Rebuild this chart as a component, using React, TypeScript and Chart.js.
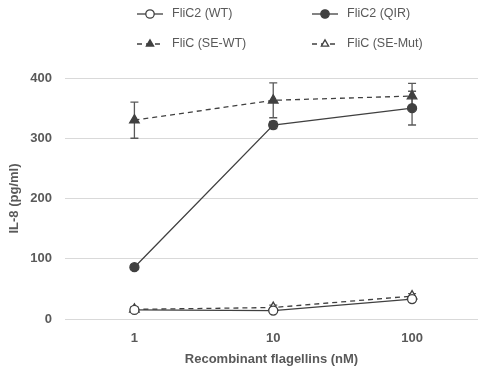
import React, { useEffect, useRef } from "react";
import { Chart, registerables } from "chart.js";

Chart.register(...registerables);

const categories = ["1", "10", "100"];
const wtValues = [15, 14, 33];
const wtErrors = [3, 3, 4];
const qirValues = [86, 322, 350];
const qirErrors = [4, 6, 28];
const seWtValues = [330, 363, 370];
const seWtErrors = [30, 29, 21];
const seMutValues = [16, 19, 38];
const seMutErrors = [4, 4, 4];
const yTicks = [0, 100, 200, 300, 400];

const seriesNames = ["FliC2 (WT)", "FliC2 (QIR)", "FliC (SE-WT)", "FliC (SE-Mut)"];

const INK = "#404040";
const TEXT = "#595959";
const FONT = "'Liberation Sans', Arial, sans-serif";

const errorsByDataset = [wtErrors, qirErrors, seWtErrors, seMutErrors];
const valuesByDataset = [wtValues, qirValues, seWtValues, seMutValues];

function drawMarker(ctx: CanvasRenderingContext2D, style: string, filled: boolean, x: number, y: number, r: number) {
  ctx.save();
  ctx.beginPath();
  if (style === "circle") {
    ctx.arc(x, y, r, 0, Math.PI * 2);
  } else {
    let rad = 0;
    for (let i = 0; i < 3; i++) {
      const px = x + Math.sin(rad) * r;
      const py = y - Math.cos(rad) * r;
      if (i === 0) ctx.moveTo(px, py);
      else ctx.lineTo(px, py);
      rad += (2 * Math.PI) / 3;
    }
    ctx.closePath();
  }
  ctx.fillStyle = filled ? INK : "#ffffff";
  ctx.fill();
  ctx.lineWidth = 1.3;
  ctx.strokeStyle = INK;
  ctx.stroke();
  ctx.restore();
}

const errorBarPlugin = {
  id: "errorBars",
  beforeDatasetsDraw(chart: any) {
    const ctx = chart.ctx;
    const yScale = chart.scales.y;
    ctx.save();
    ctx.strokeStyle = TEXT;
    ctx.lineWidth = 1.3;
    chart.data.datasets.forEach((_ds: any, di: number) => {
      const meta = chart.getDatasetMeta(di);
      const vals = valuesByDataset[di];
      const errs = errorsByDataset[di];
      meta.data.forEach((pt: any, i: number) => {
        const x = pt.x;
        const yTop = yScale.getPixelForValue(vals[i] + errs[i]);
        const yBot = yScale.getPixelForValue(vals[i] - errs[i]);
        ctx.beginPath();
        ctx.moveTo(x, yTop);
        ctx.lineTo(x, yBot);
        ctx.moveTo(x - 4, yTop);
        ctx.lineTo(x + 4, yTop);
        ctx.moveTo(x - 4, yBot);
        ctx.lineTo(x + 4, yBot);
        ctx.stroke();
      });
    });
    ctx.restore();
  },
};

const legendPlugin = {
  id: "gridLegend",
  afterDraw(chart: any) {
    const ctx = chart.ctx;
    const cols = [137, 312];
    const rows = [14, 44];
    chart.data.datasets.forEach((ds: any, i: number) => {
      const x0 = cols[i % 2];
      const y0 = rows[Math.floor(i / 2)];
      ctx.save();
      ctx.strokeStyle = INK;
      ctx.lineWidth = 1.3;
      ctx.setLineDash(ds.borderDash || []);
      ctx.beginPath();
      ctx.moveTo(x0, y0);
      ctx.lineTo(x0 + 26, y0);
      ctx.stroke();
      ctx.setLineDash([]);
      ctx.restore();
      drawMarker(ctx, ds.pointStyle, ds.pointBackgroundColor === INK, x0 + 13, y0, 4.2);
      ctx.save();
      ctx.fillStyle = TEXT;
      ctx.font = `12.5px ${FONT}`;
      ctx.textBaseline = "middle";
      ctx.textAlign = "left";
      ctx.fillText(ds.label, x0 + 35, y0);
      ctx.restore();
    });
  },
};

export default function App() {
  const ref = useRef<HTMLCanvasElement | null>(null);

  useEffect(() => {
    if (!ref.current) return;
    const toPts = (vals: number[]) => vals.map((v, i) => ({ x: i, y: v }));
    const chart = new Chart(ref.current, {
      type: "line",
      data: {
        datasets: [
          {
            label: seriesNames[0],
            data: toPts(wtValues),
            borderColor: INK,
            borderWidth: 1.3,
            pointStyle: "circle",
            pointRadius: 4.5,
            pointBackgroundColor: "#ffffff",
            pointBorderColor: INK,
            pointBorderWidth: 1.3,
          },
          {
            label: seriesNames[1],
            data: toPts(qirValues),
            borderColor: INK,
            borderWidth: 1.3,
            pointStyle: "circle",
            pointRadius: 4.5,
            pointBackgroundColor: INK,
            pointBorderColor: INK,
            pointBorderWidth: 1.3,
          },
          {
            label: seriesNames[2],
            data: toPts(seWtValues),
            borderColor: INK,
            borderWidth: 1.3,
            borderDash: [5, 4],
            pointStyle: "triangle",
            pointRadius: 5.5,
            pointBackgroundColor: INK,
            pointBorderColor: INK,
            pointBorderWidth: 1.3,
          },
          {
            label: seriesNames[3],
            data: toPts(seMutValues),
            borderColor: INK,
            borderWidth: 1.3,
            borderDash: [5, 4],
            pointStyle: "triangle",
            pointRadius: 5.5,
            pointBackgroundColor: "#ffffff",
            pointBorderColor: INK,
            pointBorderWidth: 1.3,
          },
        ],
      },
      options: {
        animation: false,
        responsive: true,
        maintainAspectRatio: false,
        layout: { autoPadding: false, padding: { top: 78, left: 0, right: 0, bottom: 0 } },
        plugins: {
          legend: { display: false },
          tooltip: { enabled: false },
        },
        scales: {
          x: {
            type: "linear",
            min: -0.5,
            max: 2.475,
            afterBuildTicks: (scale: any) => {
              scale.ticks = categories.map((_c, i) => ({ value: i }));
            },
            afterFit: (scale: any) => {
              scale.height = 54;
              scale.paddingLeft = 0;
              scale.paddingRight = 0;
            },
            grid: { display: false, drawTicks: false },
            border: { display: false },
            ticks: {
              padding: 12,
              color: TEXT,
              font: { family: FONT, size: 13, weight: "bold" },
              callback: (v: any) => categories[v as number] ?? "",
            },
            title: {
              display: true,
              text: "Recombinant flagellins (nM)",
              color: TEXT,
              font: { family: FONT, size: 13, weight: "bold" },
              padding: { top: 0, bottom: 6 },
            },
          },
          y: {
            type: "linear",
            min: 0,
            max: 400,
            afterBuildTicks: (scale: any) => {
              scale.ticks = yTicks.map((v) => ({ value: v }));
            },
            afterFit: (scale: any) => {
              scale.width = 65;
              scale.paddingTop = 0;
              scale.paddingBottom = 0;
            },
            grid: { color: "#d9d9d9", lineWidth: 1, drawTicks: false },
            border: { display: false },
            ticks: {
              padding: 13,
              color: TEXT,
              font: { family: FONT, size: 13, weight: "bold" },
            },
            title: {
              display: true,
              text: "IL-8 (pg/ml)",
              color: TEXT,
              font: { family: FONT, size: 13, weight: "bold" },
              padding: { top: 7, bottom: 0 },
            },
          },
        },
      },
      plugins: [errorBarPlugin, legendPlugin],
    } as any);
    return () => chart.destroy();
  }, []);

  return (
    <div style={{ position: "fixed", left: 0, top: 0, width: 478, height: 373, background: "#ffffff" }}>
      <canvas ref={ref} />
    </div>
  );
}
